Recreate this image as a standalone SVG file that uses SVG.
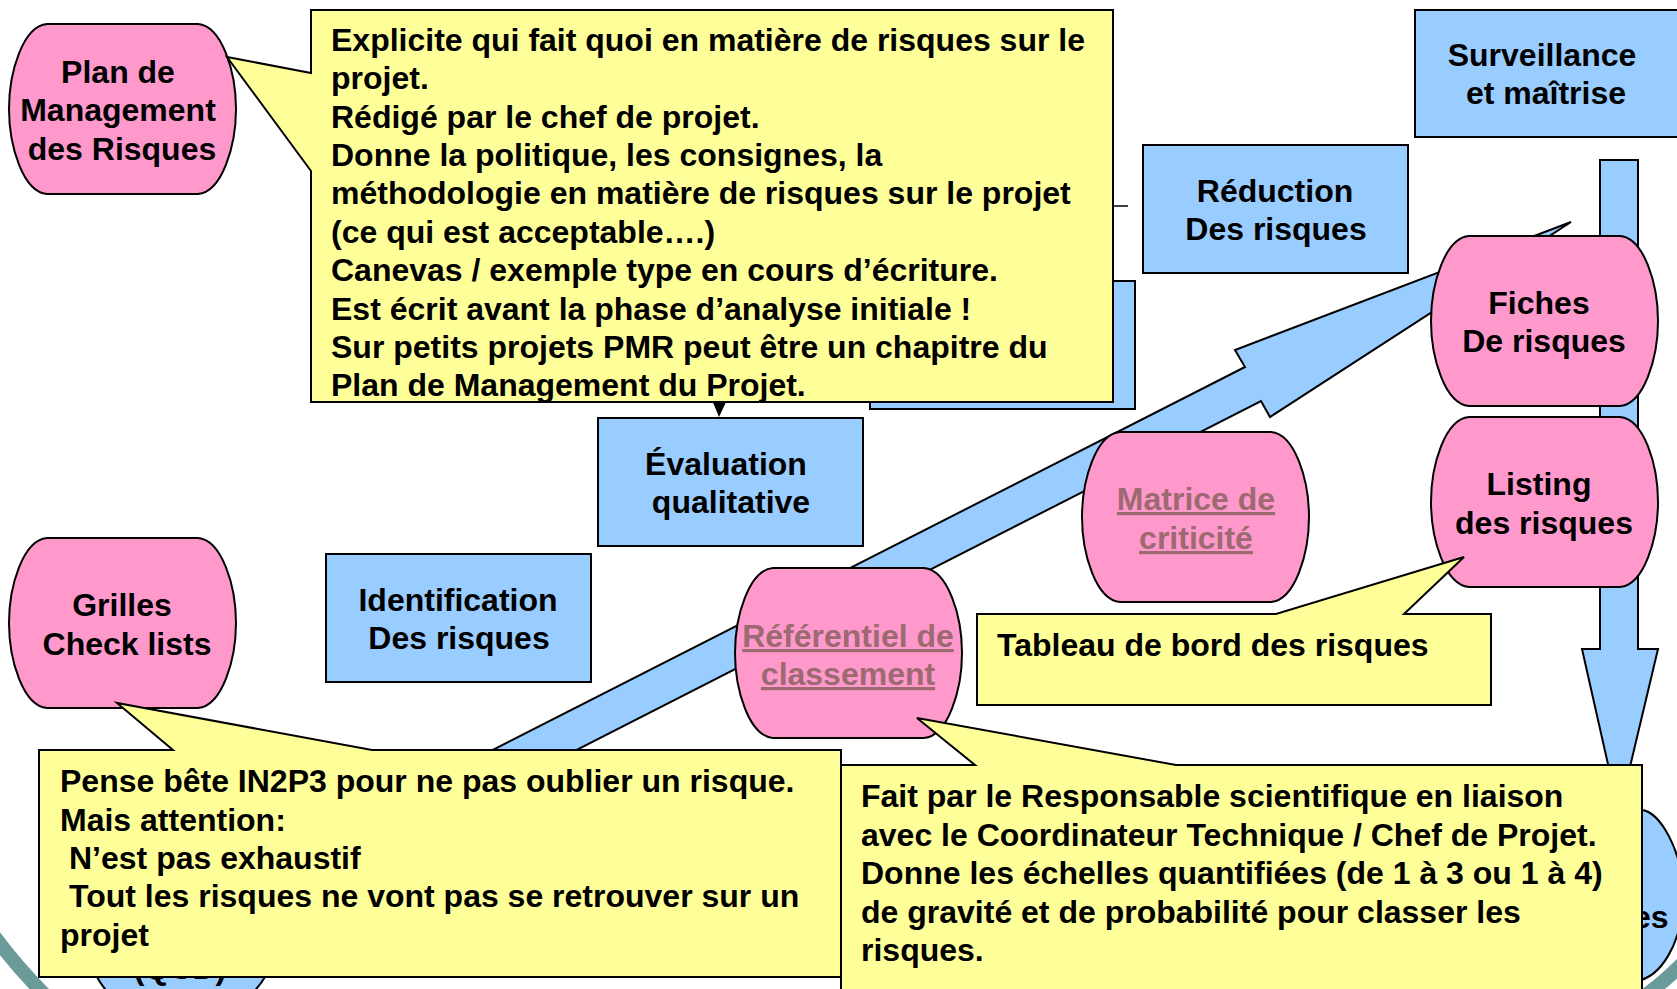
<svg xmlns="http://www.w3.org/2000/svg" width="1677" height="989" viewBox="0 0 1677 989">
<defs><path id="barrel" d="M38 0H189C213 2 227 48 227 85C227 122 213 168 189 170H38C14 168 0 122 0 85C0 48 14 2 38 0Z"/></defs>
<style>
text{font-family:"Liberation Sans",Arial,sans-serif;font-weight:700;font-size:32px;fill:#000}
.c{text-anchor:middle}
.b{fill:#99CCFF;stroke:#000;stroke-width:2}
.p{fill:#FF99CC;stroke:#000;stroke-width:2}
.y{fill:#FFFF99;stroke:#000;stroke-width:2}
.l{fill:#9C6A70;text-decoration:underline}
</style>
<rect width="1677" height="989" fill="#fff"/>
<g id="ring" fill="none" stroke="#6B9A9A" stroke-width="14"><path d="M-6 936Q17 967 45 995"/><path d="M1646 995Q1664 982 1685 961"/></g>
<g id="qcd"><path class="b" d="M97 977Q112 1005 150 1020H210Q248 1005 265 977V900H97Z"/><text class="c" x="180" y="979">(QCD)</text></g>
<g id="bottom-right"><path class="b" d="M1500 810H1642C1660 812 1682 850 1684 895C1682 945 1660 978 1636 981H1500Z"/><text x="1633" y="928">es</text></g>
<g id="connectors">
<path class="b" d="M1600 160H1638V649H1658L1619 813L1582 649H1600Z"/>
<path class="b" d="M420 787L1245 367L1235 350L1571 222L1270 417L1261 401L500 789Z"/>
<path d="M712 400H727L719 417Z" fill="#000"/>
<path d="M1113 206H1128" stroke="#000" stroke-width="1.5"/>
</g>
<g id="box-back"><rect class="b" x="870" y="281" width="265" height="128"/></g>
<g id="reduction"><rect class="b" x="1143" y="145" width="265" height="128"/><text class="c" x="1275" y="202">Réduction</text><text class="c" x="1276" y="240">Des risques</text></g>
<g id="surveillance"><rect class="b" x="1415" y="10" width="280" height="127"/><text class="c" x="1542" y="66">Surveillance</text><text class="c" x="1546" y="104">et maîtrise</text></g>
<g id="evaluation"><rect class="b" x="598" y="418" width="265" height="128"/><text class="c" x="726" y="475">Évaluation</text><text class="c" x="731" y="513">qualitative</text></g>
<g id="identification"><rect class="b" x="326" y="554" width="265" height="128"/><text class="c" x="458" y="611">Identification</text><text class="c" x="459" y="649">Des risques</text></g>
<g id="plan"><use href="#barrel" class="p" x="9" y="24"/><text class="c" x="118" y="83">Plan de</text><text class="c" x="118" y="121">Management</text><text class="c" x="122" y="160">des Risques</text></g>
<g id="grilles"><use href="#barrel" class="p" x="9" y="538"/><text class="c" x="122" y="616">Grilles</text><text class="c" x="127" y="655">Check lists</text></g>
<g id="matrice"><use href="#barrel" class="p" x="1082" y="432"/><text class="c l" x="1196" y="510">Matrice de</text><text class="c l" x="1196" y="549">criticité</text></g>
<g id="referentiel"><use href="#barrel" class="p" x="735" y="568"/><text class="c l" x="848" y="647">Référentiel de</text><text class="c l" x="848" y="685">classement</text></g>
<g id="fiches"><use href="#barrel" class="p" x="1431" y="236"/><text class="c" x="1539" y="314">Fiches</text><text class="c" x="1544" y="352">De risques</text></g>
<g id="listing"><use href="#barrel" class="p" x="1431" y="417"/><text class="c" x="1539" y="495">Listing</text><text class="c" x="1544" y="534">des risques</text></g>
<g id="note-plan"><path class="y" d="M311 10H1113V402H311V171L227 57L311 73Z"/>
<text x="331" y="51">Explicite qui fait quoi en matière de risques sur le</text><text x="331" y="89">projet.</text><text x="331" y="128">Rédigé par le chef de projet.</text><text x="331" y="166">Donne la politique, les consignes, la</text><text x="331" y="204">méthodologie en matière de risques sur le projet</text><text x="331" y="243">(ce qui est acceptable….)</text><text x="331" y="281">Canevas / exemple type en cours d’écriture.</text><text x="331" y="320">Est écrit avant la phase d’analyse initiale !</text><text x="331" y="358">Sur petits projets PMR peut être un chapitre du</text><text x="331" y="396">Plan de Management du Projet.</text></g>
<g id="note-tableau"><path class="y" d="M977 614H1276L1464 557L1404 614H1491V705H977Z"/><text x="997" y="656">Tableau de bord des risques</text></g>
<g id="note-grilles"><path class="y" d="M39 750H173L117 703L372 750H841V977H39Z"/><text x="60" y="792">Pense bête IN2P3 pour ne pas oublier un risque.</text><text x="60" y="831">Mais attention:</text><text x="69" y="869">N’est pas exhaustif</text><text x="69" y="907">Tout les risques ne vont pas se retrouver sur un</text><text x="60" y="946">projet</text></g>
<g id="note-referentiel"><path class="y" d="M841 765H975L917 718L1176 765H1642V1000H841Z"/><text x="861" y="807">Fait par le Responsable scientifique en liaison</text><text x="861" y="846">avec le Coordinateur Technique / Chef de Projet.</text><text x="861" y="884">Donne les échelles quantifiées (de 1 à 3 ou 1 à 4)</text><text x="861" y="923">de gravité et de probabilité pour classer les</text><text x="861" y="961">risques.</text></g>
</svg>
